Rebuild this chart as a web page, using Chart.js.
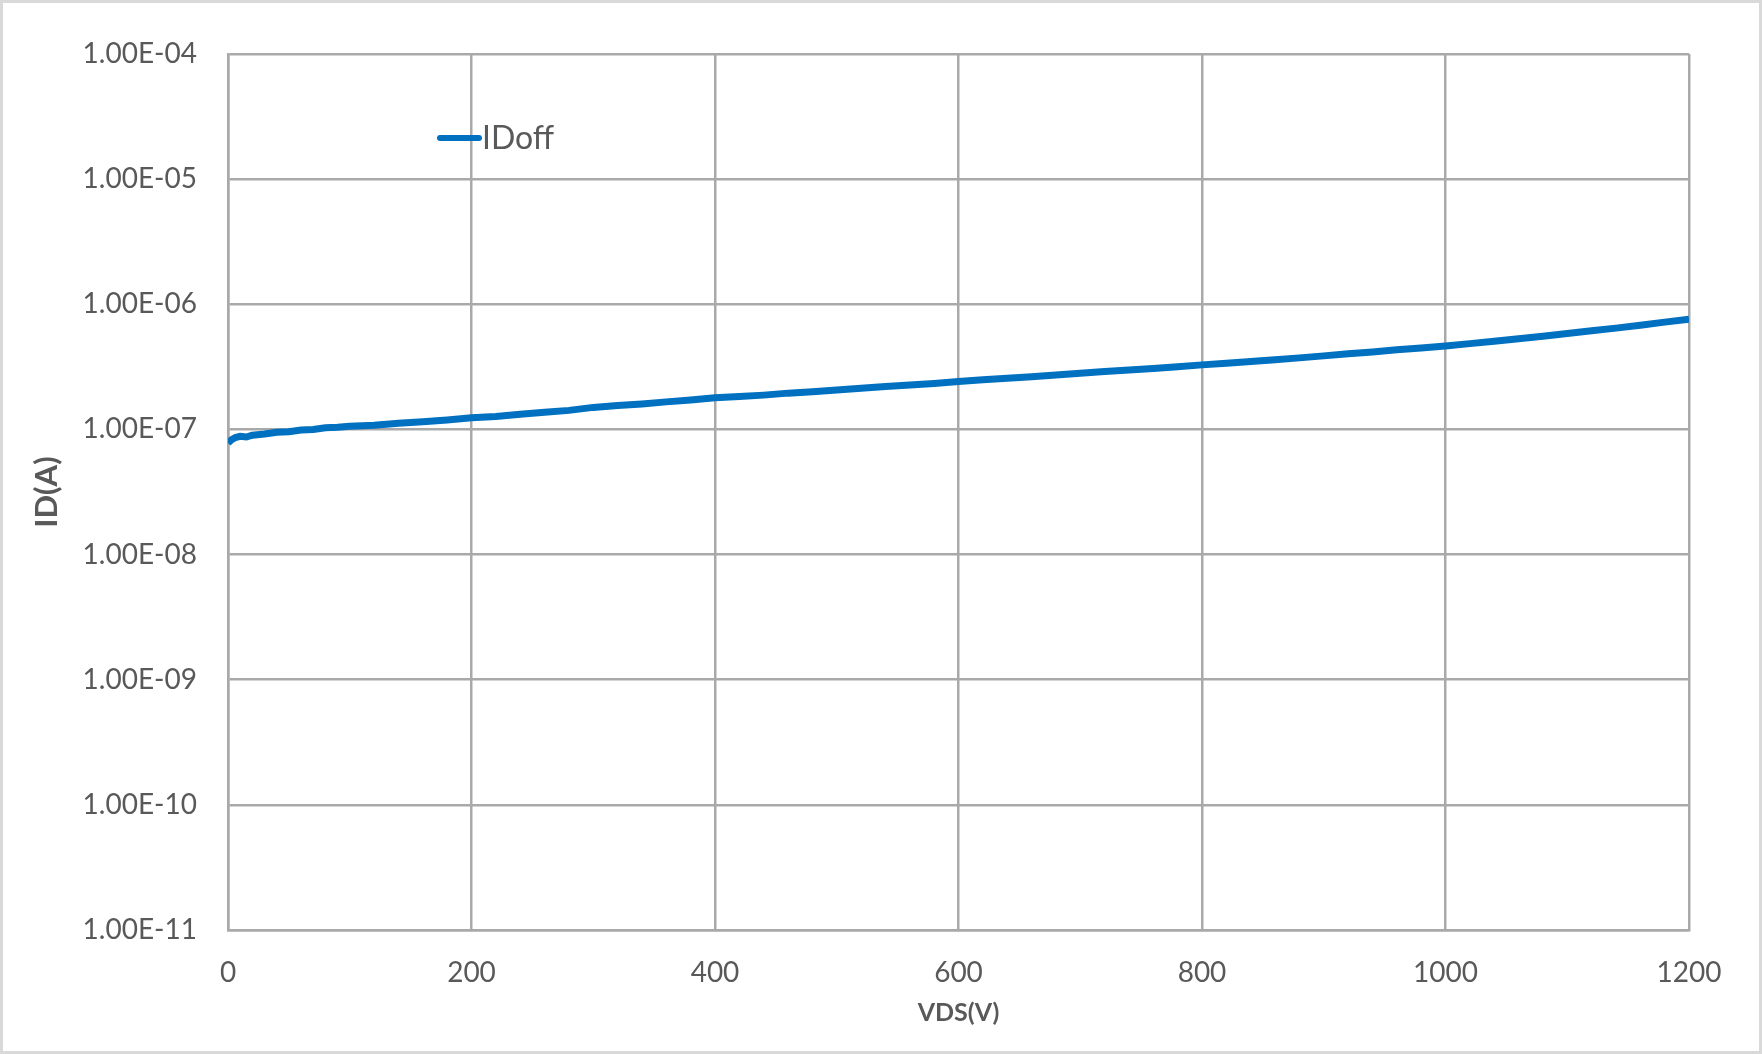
<!DOCTYPE html>
<html>
<head>
<meta charset="utf-8">
<title>IDoff vs VDS</title>
<script src="https://cdn.jsdelivr.net/npm/chart.js@4.4.1/dist/chart.umd.min.js"></script>
<style>
    html, body { margin: 0; padding: 0; background: #ffffff; }
    #quadro { width: 1762px; height: 1054px; position: relative; }
</style>
</head>
<body>
<div id="quadro"><canvas id="graficoIdoff" width="1762" height="1054"></canvas></div>
<script>
// valores
const vds = [
    0, 3, 6, 10, 15, 20, 30, 40, 50, 60, 70, 80, 90, 100,
    120, 140, 160, 180, 200, 220, 240, 260, 280, 300,
    320, 340, 360, 380, 400, 420, 440, 460, 480, 500,
    520, 540, 560, 580, 600, 620, 640, 660, 680, 700,
    720, 740, 760, 780, 800, 820, 840, 860, 880, 900,
    920, 940, 960, 980, 1000, 1020, 1040, 1060, 1080, 1100,
    1120, 1140, 1160, 1180, 1200
];

const idoff = [
    7.8e-8, 8.3e-8, 8.6e-8, 8.8e-8, 8.7e-8, 9.0e-8, 9.2e-8, 9.5e-8, 9.6e-8, 9.9e-8, 1.00e-7, 1.03e-7, 1.04e-7, 1.06e-7,
    1.08e-7, 1.12e-7, 1.15e-7, 1.19e-7, 1.24e-7, 1.27e-7, 1.32e-7, 1.37e-7, 1.42e-7, 1.50e-7,
    1.55e-7, 1.60e-7, 1.66e-7, 1.72e-7, 1.79e-7, 1.83e-7, 1.88e-7, 1.95e-7, 2.00e-7, 2.07e-7,
    2.13e-7, 2.20e-7, 2.26e-7, 2.33e-7, 2.42e-7, 2.49e-7, 2.56e-7, 2.64e-7, 2.72e-7, 2.81e-7,
    2.90e-7, 2.98e-7, 3.07e-7, 3.17e-7, 3.28e-7, 3.38e-7, 3.49e-7, 3.60e-7, 3.73e-7, 3.87e-7,
    4.02e-7, 4.16e-7, 4.33e-7, 4.48e-7, 4.64e-7, 4.85e-7, 5.07e-7, 5.30e-7, 5.55e-7, 5.85e-7,
    6.15e-7, 6.45e-7, 6.80e-7, 7.20e-7, 7.60e-7
];

const ticksY = [1e-11, 1e-10, 1e-9, 1e-8, 1e-7, 1e-6, 1e-5, 1e-4];
const ticksX = [0, 200, 400, 600, 800, 1000, 1200];

const corTexto = "#595959";
const corGrade = "#a9a9a9";
const corLinha = "#0070c0";
const fonte = "Lato, 'Open Sans', sans-serif";

function formatarCientifico(valor) {
    const expoente = Math.round(Math.log10(valor));
    const mantissa = valor / Math.pow(10, expoente);
    const sinal = expoente < 0 ? "-" : "+";
    return mantissa.toFixed(2) + "E" + sinal + String(Math.abs(expoente)).padStart(2, "0");
}

// moldura cinza em volta da imagem
const pluginMoldura = {
    id: "moldura",
    afterDraw(chart) {
        const ctx = chart.ctx;
        ctx.save();
        ctx.strokeStyle = "#d9d9d9";
        ctx.lineWidth = 3;
        ctx.strokeRect(1.5, 1.5, chart.width - 3, chart.height - 3);
        ctx.restore();
    }
};

// legenda dentro da área do gráfico, como no original
const pluginLegenda = {
    id: "legendaIdoff",
    afterDatasetsDraw(chart) {
        const ctx = chart.ctx;
        const ds = chart.data.datasets[0];
        ctx.save();
        ctx.strokeStyle = ds.borderColor;
        ctx.lineWidth = 6;
        ctx.lineCap = "round";
        ctx.beginPath();
        ctx.moveTo(440, 138);
        ctx.lineTo(479, 138);
        ctx.stroke();
        ctx.fillStyle = corTexto;
        ctx.font = "32px " + fonte;
        ctx.textBaseline = "middle";
        ctx.textAlign = "left";
        ctx.fillText(ds.label, 482, 139);
        ctx.restore();
    }
};

const canvas = document.getElementById("graficoIdoff");

new Chart(canvas, {
    type: "line",
    data: {
        datasets: [{
            label: "IDoff",
            data: vds.map((v, i) => ({ x: v, y: idoff[i] })),
            borderColor: corLinha,
            backgroundColor: corLinha,
            borderWidth: 7,
            pointRadius: 0,
            tension: 0,
            fill: false
        }]
    },
    options: {
        responsive: false,
        animation: false,
        layout: {
            padding: { left: 0, top: 54, right: 73, bottom: 0 }
        },
        plugins: {
            legend: { display: false },
            tooltip: { enabled: false }
        },
        scales: {
            x: {
                type: "linear",
                min: 0,
                max: 1200,
                afterBuildTicks(scale) {
                    scale.ticks = ticksX.map(v => ({ value: v }));
                },
                afterFit(scale) {
                    scale.height = 124;
                },
                ticks: {
                    color: corTexto,
                    font: { family: fonte, size: 28 },
                    padding: 26,
                    maxRotation: 0,
                    callback: valor => String(valor)
                },
                grid: {
                    color: corGrade,
                    lineWidth: 2.5,
                    drawTicks: false
                },
                border: { color: corGrade, width: 2.5 },
                title: {
                    display: true,
                    text: "VDS(V)",
                    color: corTexto,
                    font: { family: fonte, size: 25, weight: "bold" },
                    padding: { top: 26, bottom: 26 }
                }
            },
            y: {
                type: "logarithmic",
                min: 1e-11,
                max: 1e-4,
                afterBuildTicks(scale) {
                    scale.ticks = ticksY.map(v => ({ value: v, major: true }));
                },
                afterFit(scale) {
                    scale.width = 228;
                },
                ticks: {
                    color: corTexto,
                    font: { family: fonte, size: 28 },
                    padding: 31,
                    callback: valor => formatarCientifico(valor)
                },
                grid: {
                    color: corGrade,
                    lineWidth: 2.5,
                    drawTicks: false
                },
                border: { color: corGrade, width: 2.5 },
                title: {
                    display: true,
                    text: "ID(A)",
                    color: corTexto,
                    font: { family: fonte, size: 31, weight: "bold" },
                    padding: { top: 28, bottom: 28 }
                }
            }
        }
    },
    plugins: [pluginMoldura, pluginLegenda]
});
</script>
</body>
</html>
